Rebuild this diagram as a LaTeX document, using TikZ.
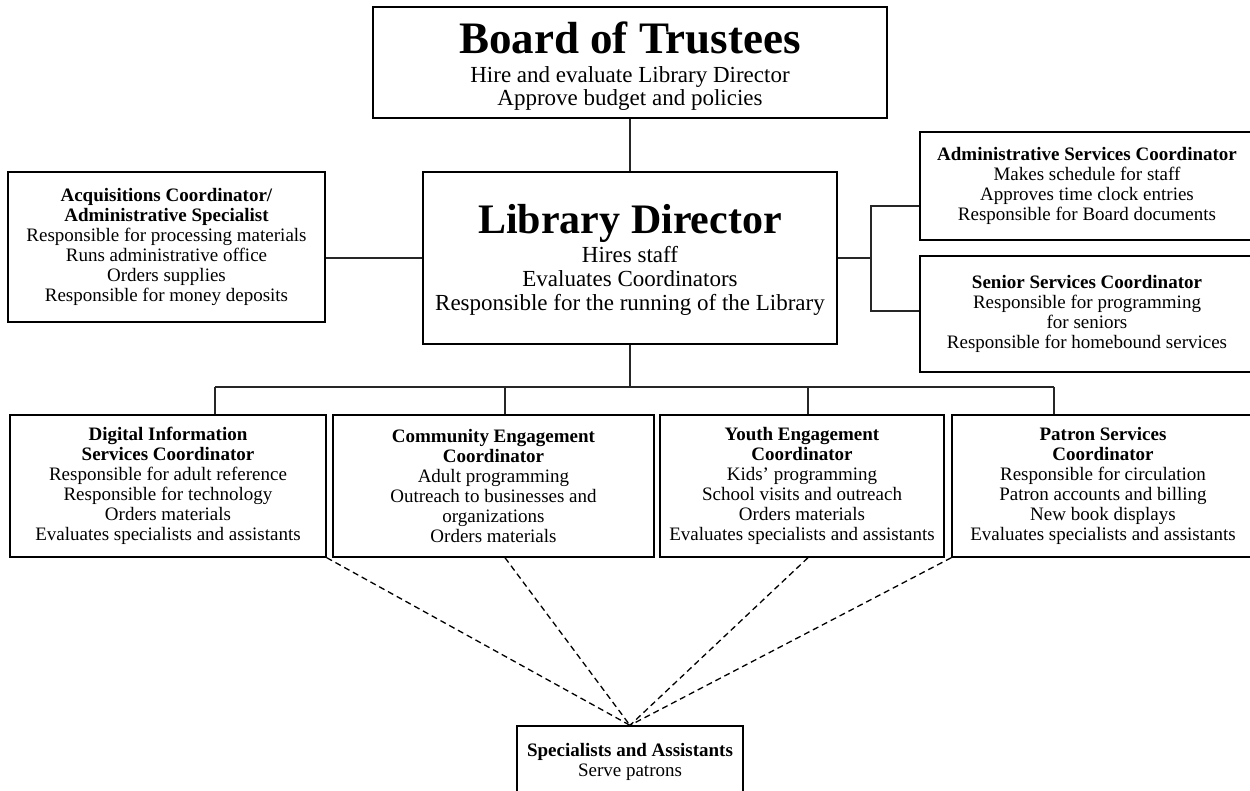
\documentclass[tikz,border=0pt]{standalone}
\usepackage{fontspec}
\setmainfont{Liberation Serif}
\begin{document}
\begin{tikzpicture}[x=1pt,y=-1pt,
  box/.style={draw=black, line width=1.4pt, inner sep=0pt, align=center},
  small/.style={box, font=\fontsize{19}{20}\selectfont},
  big/.style={box, font=\fontsize{23}{24}\selectfont},
  link/.style={draw=black!85, line width=1.2pt},
  dashlink/.style={draw=black, line width=1.3pt, dash pattern=on 6pt off 4pt}]
\path[use as bounding box, fill=white] (0,0) rectangle (1250,791);

% main boxes
\node[big, minimum width=514pt, minimum height=111pt, font=\fontsize{23}{22.5}\selectfont] (board) at (630,62.5)
  {{\fontsize{45}{50}\selectfont\bfseries\rule{0pt}{39pt}Board of Trustees}\\[6.5pt]
   Hire and evaluate Library Director\\
   Approve budget and policies};

\node[big, minimum width=414pt, minimum height=172pt] (dir) at (630,258)
  {{\fontsize{42}{46}\selectfont\bfseries\rule{0pt}{33pt}Library Director}\\[2pt]
   Hires staff\\
   Evaluates Coordinators\\
   Responsible for the running of the Library};

\node[small, minimum width=317pt, minimum height=150pt] (acq) at (166.5,247)
  {\textbf{Acquisitions Coordinator/}\\
   \textbf{Administrative Specialist}\\
   Responsible for processing materials\\
   Runs administrative office\\
   Orders supplies\\
   Responsible for money deposits};

\node[small, minimum width=334pt, minimum height=108pt] (adm) at (1087,186)
  {\textbf{Administrative Services Coordinator}\\
   Makes schedule for staff\\
   Approves time clock entries\\
   Responsible for Board documents};

\node[small, minimum width=334pt, minimum height=116pt] (sen) at (1087,314)
  {\textbf{Senior Services Coordinator}\\
   Responsible for programming\\
   for seniors\\
   Responsible for homebound services};

% coordinator row
\node[small, minimum width=316pt, minimum height=142pt] (dig) at (168,486)
  {\textbf{Digital Information}\\
   \textbf{Services Coordinator}\\
   Responsible for adult reference\\
   Responsible for technology\\
   Orders materials\\
   Evaluates specialists and assistants};

\node[small, minimum width=321pt, minimum height=142pt] (com) at (493.5,486)
  {\textbf{Community Engagement}\\
   \textbf{Coordinator}\\
   Adult programming\\
   Outreach to businesses and\\
   organizations\\
   Orders materials};

\node[small, minimum width=284pt, minimum height=142pt] (you) at (802,486)
  {\textbf{Youth Engagement}\\
   \textbf{Coordinator}\\
   Kids’ programming\\
   School visits and outreach\\
   Orders materials\\
   Evaluates specialists and assistants};

\node[small, minimum width=302pt, minimum height=142pt] (pat) at (1103,486)
  {\textbf{Patron Services}\\
   \textbf{Coordinator}\\
   Responsible for circulation\\
   Patron accounts and billing\\
   New book displays\\
   Evaluates specialists and assistants};

\node[small, minimum width=226pt, minimum height=74pt] (spe) at (630,763)
  {\textbf{Specialists and Assistants}\\
   Serve patrons\rule[-6pt]{0pt}{6pt}};

% junction points
\coordinate (rbus) at (871,258);
\coordinate (bus) at (630,387);
\coordinate (d1) at (215,387);
\coordinate (d2) at (505,387);
\coordinate (d3) at (808,387);
\coordinate (d4) at (1054,387);

% solid connectors
\draw[link] (board.south) -- (dir.north);
\draw[link] (dir.west) -- (dir.west -| acq.east);
\draw[link] (dir.east) -- (rbus);
\draw[link] ([yshift=-20pt]adm.west) -| (rbus) |- ([yshift=3pt]sen.west);
\draw[link] (dir.south) -- (bus);
\draw[link] (d1) -- (d4);
\draw[link] (d1) -- (d1 |- dig.north);
\draw[link] (d2) -- (d2 |- com.north);
\draw[link] (d3) -- (d3 |- you.north);
\draw[link] (d4) -- (d4 |- pat.north);

% dashed connectors
\draw[dashlink] (dig.south east) -- (spe.north);
\draw[dashlink] (d2 |- com.south) -- (spe.north);
\draw[dashlink] (d3 |- you.south) -- (spe.north);
\draw[dashlink] (pat.south west) -- (spe.north);
\end{tikzpicture}
\end{document}
